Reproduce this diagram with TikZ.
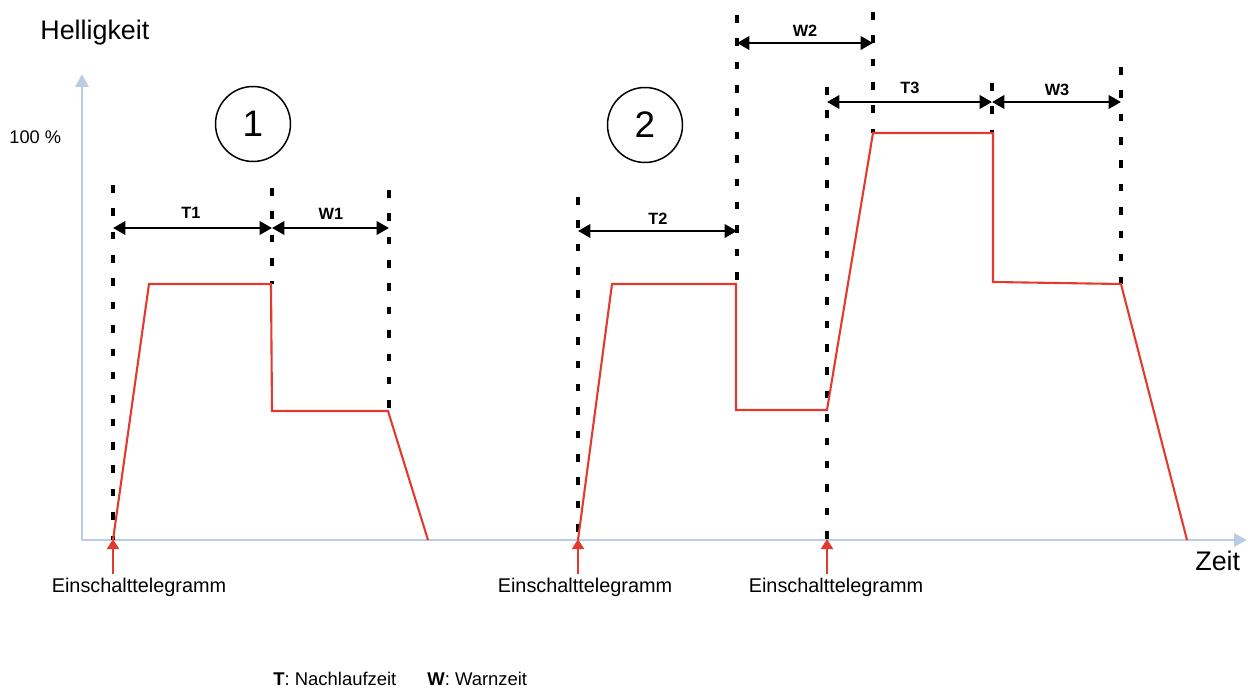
\documentclass[tikz,border=0pt]{standalone}
\usepackage{fontspec}
\setmainfont{Liberation Sans}
\usetikzlibrary{arrows.meta}
\definecolor{axisblue}{RGB}{184,204,228}
\definecolor{curvered}{RGB}{226,58,46}
\begin{document}
\begin{tikzpicture}[x=0.02cm,y=-0.02cm,
  axisline/.style={draw=axisblue, line width=1.7pt, -{Triangle[length=7.4pt,width=7.4pt]}},
  guide/.style={draw=black, line width=1.8pt, dash pattern=on 4.3pt off 9pt},
  dimline/.style={draw=black, line width=1.6pt, {Triangle[length=7pt,width=7.5pt]}-{Triangle[length=7pt,width=7.5pt]}},
  curve/.style={draw=curvered, line width=1.2pt, line join=miter},
  trigger/.style={draw=curvered, line width=1.5pt, -{Triangle[length=5.8pt,width=6.8pt]}},
  dimlabel/.style={font=\fontsize{9.3}{11}\selectfont\bfseries, inner sep=0pt},
  plainlabel/.style={inner sep=0pt, anchor=west},
  numcircle/.style={draw=black, line width=0.85pt, circle, minimum size=1.5cm, inner sep=0pt, font=\fontsize{21}{24}\selectfont}
]
\useasboundingbox (0,0) rectangle (1248,688);
% axes
\coordinate (origin) at (82,540);
\coordinate (ytip) at (82,74);
\coordinate (xtip) at (1247,540);
\draw[axisline] (origin) -- (ytip);
\draw[axisline] (origin) -- (xtip);
\node[plainlabel, font=\fontsize{15.3}{18}\selectfont] (hell) at (40,33) {Helligkeit};
\node[plainlabel, font=\fontsize{10.4}{12}\selectfont] (hundred) at (9,137) {100 \%};
\node[plainlabel, font=\fontsize{15.3}{18}\selectfont] (zeit) at (1195,561) {Zeit};

% guide lines
\coordinate (g1a) at (113,185); \coordinate (g1b) at (113,540);
\coordinate (g2a) at (272,188); \coordinate (g2b) at (272,284);
\coordinate (g3a) at (389,190); \coordinate (g3b) at (389,411);
\coordinate (g4a) at (578,197); \coordinate (g4b) at (578,540);
\coordinate (g5a) at (737,15);  \coordinate (g5b) at (737,284);
\coordinate (g6a) at (827,87);  \coordinate (g6b) at (827,540);
\coordinate (g7a) at (873,12);  \coordinate (g7b) at (873,133);
\coordinate (g8a) at (992,83);  \coordinate (g8b) at (992,133);
\coordinate (g9a) at (1121,67); \coordinate (g9b) at (1121,284);
\foreach \g in {1,...,9} {\draw[guide] (g\g a) -- (g\g b);}

% dimension arrows
\coordinate (t1a) at (113,228); \coordinate (t1b) at (272,228);
\coordinate (w1b) at (389,228);
\draw[dimline] (t1a) -- (t1b);
\draw[dimline] (t1b) -- (w1b);
\node[dimlabel] (lt1) at (191,213) {T1};
\node[dimlabel] (lw1) at (331,214) {W1};

\coordinate (t2a) at (578,231); \coordinate (t2b) at (737,231);
\draw[dimline] (t2a) -- (t2b);
\node[dimlabel] (lt2) at (658,219) {T2};

\coordinate (w2a) at (737,43); \coordinate (w2b) at (873,43);
\draw[dimline] (w2a) -- (w2b);
\node[dimlabel] (lw2) at (805,31) {W2};

\coordinate (t3a) at (827,102); \coordinate (t3b) at (992,102); \coordinate (w3b) at (1121,102);
\draw[dimline] (t3a) -- (t3b);
\draw[dimline] (t3b) -- (w3b);
\node[dimlabel] (lt3) at (910,88) {T3};
\node[dimlabel] (lw3) at (1057,90) {W3};

% red curves
\draw[curve] (113,540) -- (149,284) -- (271,284) -- (272,411) -- (388,411) -- (428,540);
\draw[curve] (578,540) -- (612,284) -- (736,284) -- (736,410) -- (827,410) -- (873,133) -- (993,133) -- (993,282) -- (1121,284) -- (1187,540);

% trigger arrows
\coordinate (tr1) at (113,574); \coordinate (tr1t) at (113,539);
\coordinate (tr2) at (578,574); \coordinate (tr2t) at (578,539);
\coordinate (tr3) at (827,574); \coordinate (tr3t) at (827,539);
\draw[trigger] (tr1) -- (tr1t);
\draw[trigger] (tr2) -- (tr2t);
\draw[trigger] (tr3) -- (tr3t);
\node[inner sep=0pt, font=\fontsize{11.3}{13}\selectfont] (e1) at (139,587) {Einschalttelegramm};
\node[inner sep=0pt, font=\fontsize{11.3}{13}\selectfont] (e2) at (585,587) {Einschalttelegramm};
\node[inner sep=0pt, font=\fontsize{11.3}{13}\selectfont] (e3) at (836,587) {Einschalttelegramm};

% circles
\node[numcircle] (c1) at (253,124) {1};
\node[numcircle] (c2) at (645,125) {2};

% legend
\node[plainlabel, font=\fontsize{10.5}{12}\selectfont] (leg1) at (273,679) {\textbf{T}: Nachlaufzeit};
\node[plainlabel, font=\fontsize{10.5}{12}\selectfont] (leg2) at (427,679) {\textbf{W}: Warnzeit};
\end{tikzpicture}
\end{document}
